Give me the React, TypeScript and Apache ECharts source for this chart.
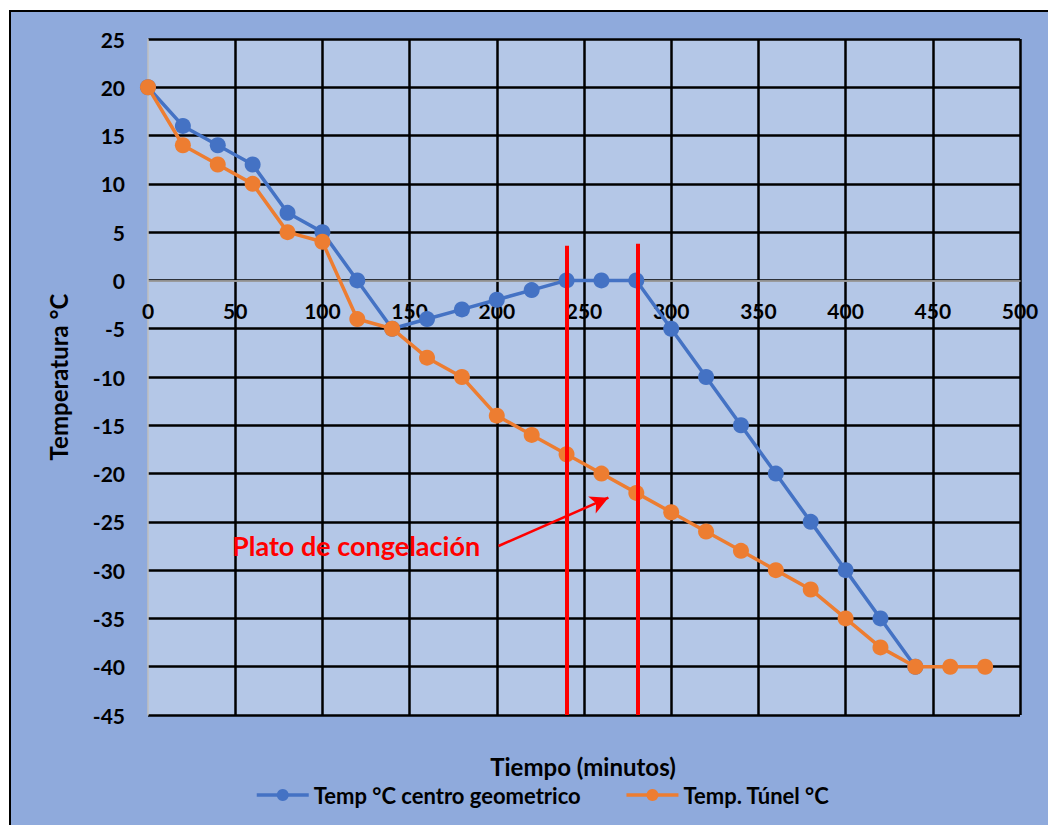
import React, { useEffect, useRef } from "react";
import * as echarts from "echarts";

const minutes = [0, 20, 40, 60, 80, 100, 120, 140, 160, 180, 200, 220, 240, 260, 280, 300, 320, 340, 360, 380, 400, 420, 440, 460, 480];
const tempCentro = [20, 16, 14, 12, 7, 5, 0, -5, -4, -3, -2, -1, 0, 0, 0, -5, -10, -15, -20, -25, -30, -35, -40];
const tempTunel = [20, 14, 12, 10, 5, 4, -4, -5, -8, -10, -14, -16, -18, -20, -22, -24, -26, -28, -30, -32, -35, -38, -40, -40, -40];
const seriesNames = ["Temp °C centro geometrico", "Temp. Túnel °C"];
const plateauStart = [240, 3.6];
const plateauEnd = [281, 3.8];
const arrowFrom = [201, -27.5];
const arrowTo = [264, -22.5];

const FONT = "Lato";

export default function App() {
  const ref = useRef<HTMLDivElement>(null);
  useEffect(() => {
    if (!ref.current) return;
    const chart = echarts.init(ref.current, undefined, { renderer: "svg" });
    chart.setOption({
      animation: false,
      backgroundColor: "#ffffff",
      graphic: [
        {
          type: "rect",
          z: -100,
          silent: true,
          shape: { x: 10, y: 11, width: 1060, height: 840 },
          style: { fill: "#8faadc", stroke: "#000000", lineWidth: 2 },
        },
        {
          type: "text",
          z: 100,
          style: {
            text: "Tiempo (minutos)",
            x: 583,
            y: 766,
            align: "center",
            verticalAlign: "middle",
            font: `bold 24px ${FONT}`,
            fill: "#000000",
          },
        },
        {
          type: "text",
          z: 100,
          style: {
            text: "Plato de congelación",
            x: 232,
            y: 545,
            align: "left",
            verticalAlign: "middle",
            font: `bold 27px ${FONT}`,
            fill: "#ff0000",
          },
        },
      ],
      grid: {
        left: 148,
        top: 39,
        right: 28,
        bottom: 110,
        show: true,
        backgroundColor: "#b4c7e7",
        borderWidth: 0,
      },
      legend: {
        left: 250,
        top: 779,
        itemWidth: 52,
        itemHeight: 15,
        itemGap: 44,
        lineStyle: { width: 3.5 },
        textStyle: { fontFamily: FONT, fontWeight: "bold", fontSize: 22, color: "#000" },
        data: seriesNames,
      },
      xAxis: {
        type: "value",
        min: 0,
        max: 500,
        interval: 50,
        z: 1,
        axisLine: { show: true, onZero: true, lineStyle: { color: "#bfbfbf", width: 1.5 } },
        axisTick: { show: false },
        axisLabel: {
          margin: -415,
          fontFamily: FONT,
          fontWeight: "bold",
          fontSize: 21,
          color: "#000",
        },
        splitLine: { show: true, showMinLine: false, lineStyle: { color: "#000", width: 2.5 } },
      },
      yAxis: {
        type: "value",
        min: -45,
        max: 25,
        interval: 5,
        name: "Temperatura °C",
        nameLocation: "middle",
        nameGap: 78,
        nameRotate: 90,
        nameTextStyle: { fontFamily: FONT, fontWeight: "bold", fontSize: 24, color: "#000" },
        axisLine: { show: true, lineStyle: { color: "#bfbfbf", width: 1.5 } },
        axisTick: { show: false },
        axisLabel: {
          margin: 23,
          fontFamily: FONT,
          fontWeight: "bold",
          fontSize: 21,
          color: "#000",
        },
        splitLine: { show: true, lineStyle: { color: "#000", width: 2.5 } },
      },
      series: [
        {
          name: seriesNames[0],
          type: "line",
          data: tempCentro.map((v, i) => [minutes[i], v]),
          symbol: "circle",
          symbolSize: 16,
          lineStyle: { color: "#4472c4", width: 3.5 },
          itemStyle: { color: "#4472c4" },
          z: 3,
        },
        {
          name: seriesNames[1],
          type: "line",
          data: tempTunel.map((v, i) => [minutes[i], v]),
          symbol: "circle",
          symbolSize: 16,
          lineStyle: { color: "#ed7d31", width: 3.5 },
          itemStyle: { color: "#ed7d31" },
          z: 4,
          markLine: {
            silent: true,
            animation: false,
            label: { show: false },
            symbol: ["none", "none"],
            lineStyle: { color: "#ff0000", width: 4, type: "solid", opacity: 1 },
            emphasis: { disabled: true },
            data: [
              [
                { coord: plateauStart, symbol: "none" },
                { coord: [plateauStart[0], -45], symbol: "none" },
              ],
              [
                { coord: plateauEnd, symbol: "none" },
                { coord: [plateauEnd[0], -45], symbol: "none" },
              ],
              [
                { coord: arrowFrom, lineStyle: { color: "#ff0000", width: 2.5, type: "solid" }, symbol: "none" },
                { coord: arrowTo, symbol: "arrow", symbolSize: [14, 18] },
              ],
            ],
          },
        },
      ],
    });
    return () => chart.dispose();
  }, []);
  return (
    <div
      ref={ref}
      style={{ position: "absolute", left: 0, top: 0, width: 1048, height: 825 }}
    />
  );
}
